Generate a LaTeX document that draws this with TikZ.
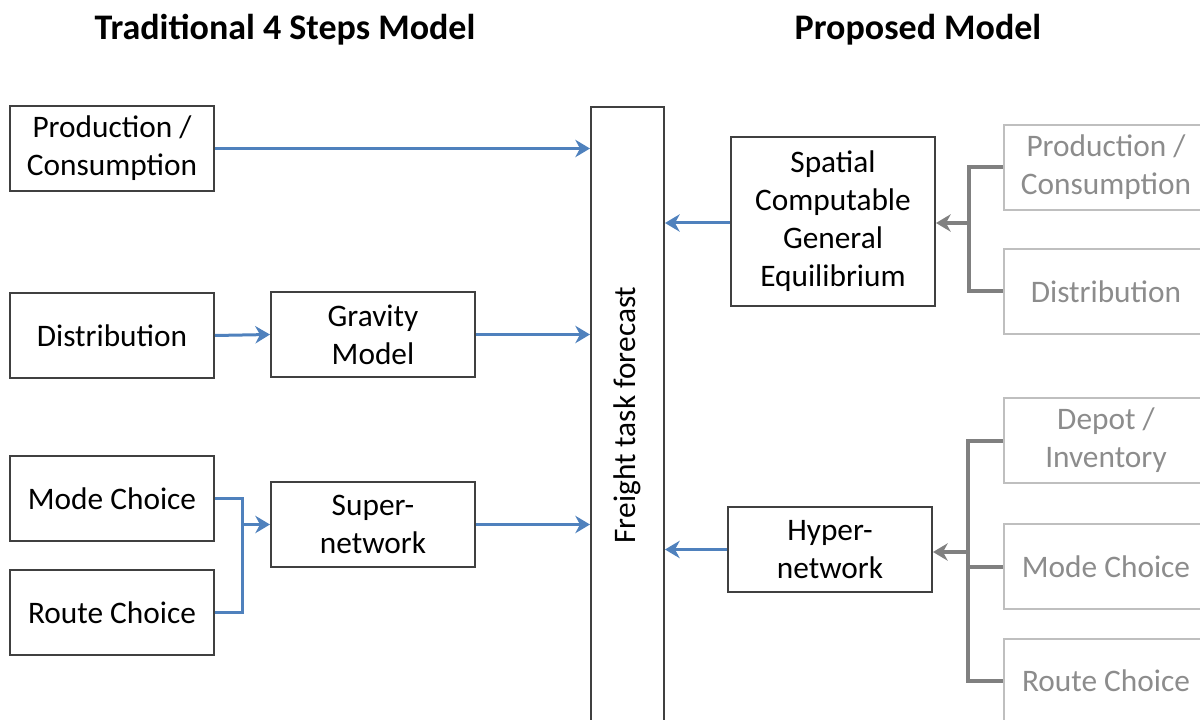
\documentclass[tikz,border=0pt]{standalone}
\usepackage{fontspec}
\setmainfont{Carlito}
\usetikzlibrary{arrows.meta}

\definecolor{flowblue}{RGB}{79,129,189}
\definecolor{bargray}{RGB}{128,128,128}
\definecolor{boxline}{RGB}{64,64,64}
\definecolor{ghostline}{RGB}{191,191,191}
\definecolor{ghosttext}{RGB}{140,140,140}

\tikzset{every picture/.style={line width=0.75pt}}
\tikzset{
  stepbox/.style={draw=boxline, line width=1.5pt, minimum width=153pt, minimum height=63.75pt,
    align=center, inner sep=0pt, font=\fontsize{23.5}{28.5}\selectfont},
  ghostbox/.style={stepbox, draw=ghostline, text=ghosttext},
  flowline/.style={flowblue, line width=2.25pt},
  flow/.style={flowline, -{Stealth[length=11pt,width=13pt,inset=3.5pt]}},
  barline/.style={bargray, line width=3pt},
  barflow/.style={barline, -{Stealth[length=11pt,width=13pt,inset=3.5pt]}},
  heading/.style={font=\bfseries\fontsize{27}{32}\selectfont, inner sep=0pt}
}

\begin{document}
\begin{tikzpicture}[x=0.75pt,y=0.75pt,yscale=-1,xscale=1]
\useasboundingbox (0,0) rectangle (1200,720);
\clip (0,0) rectangle (1200,720);

% Titles
\node [heading] (lefttitle) at (285,30) {Traditional 4 Steps Model};
\node [heading] (righttitle) at (918,30) {Proposed Model};

% Traditional side
\node [stepbox] (prod) at (112,148.5) {Production /\\Consumption};
\node [stepbox] (dist) at (112,335.5) {Distribution};
\node [stepbox] (mode) at (112,498.5) {Mode Choice};
\node [stepbox] (route) at (112,612.5) {Route Choice};
\node [stepbox] (gravity) at (373,334.5) {Gravity\\Model};
\node [stepbox] (super) at (373,524.5) {Super-\\network};

% Forecast column
\node [stepbox, minimum width=54.75pt, minimum height=462pt] (forecast) at (627.5,415) {};
\node [rotate=90, font=\fontsize{23.5}{28.5}\selectfont] (forecastlabel) at (forecast.center) {Freight task forecast};

% Proposed side
\node [stepbox, minimum height=126.75pt] (scge) at (833,221.5) {Spatial\\Computable\\General\\Equilibrium};
\node [stepbox] (hyper) at (830,549.5) {Hyper-\\network};

\node [ghostbox] (rprod) at (1106,167.5) {Production /\\Consumption};
\node [ghostbox] (rdist) at (1106,291.5) {Distribution};
\node [ghostbox] (depot) at (1106,440.5) {Depot /\\Inventory};
\node [ghostbox] (rmode) at (1106,566.5) {Mode Choice};
\node [ghostbox] (rroute) at (1106,681) {Route Choice};

\coordinate (joinL) at (242,556);
\coordinate (joinR) at (969,223);
\coordinate (joinH) at (968,552);

% Traditional connectors
\draw [flow] (prod.east) -- (prod.east -| forecast.west);
\draw [flow] (dist.east) -- (gravity.west);
\draw [flow] (gravity.east) -- (gravity.east -| forecast.west);
\draw [flowline] (mode.east) -| (joinL) |- (route.east);
\draw [flow] (joinL |- super.west) -- (super.west);
\draw [flow] (super.east) -- (super.east -| forecast.west);

% Proposed connectors
\draw [barline] (rprod.west) -| (joinR) |- (rdist.west);
\draw [barflow] (joinR) -- (joinR -| scge.east);
\draw [barline] (depot.west) -| (joinH) |- (rroute.west);
\draw [barline] (rmode.west) -- (rmode.west -| joinH);
\draw [barflow] (joinH) -- (joinH -| hyper.east);
\draw [flow] (scge.west |- joinR) -- (joinR -| forecast.east);
\draw [flow] (hyper.west) -- (hyper.west -| forecast.east);

\end{tikzpicture}
\end{document}
